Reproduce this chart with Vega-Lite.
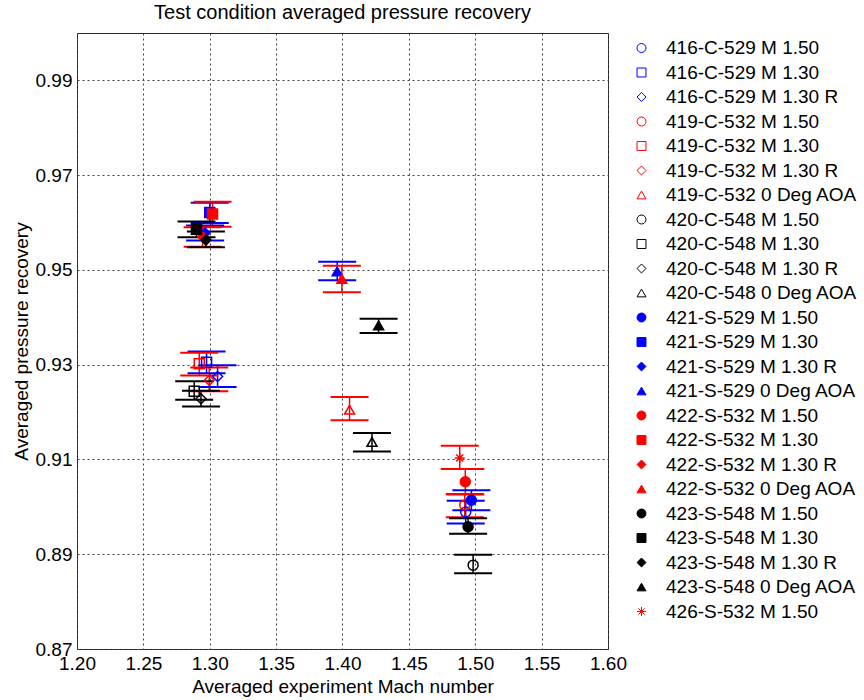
{
  "$schema": "https://vega.github.io/schema/vega-lite/v6.json",
  "width": 531,
  "height": 616,
  "autosize": {"type": "none"},
  "padding": {"left": 77, "top": 33, "right": 256, "bottom": 51},
  "background": "white",
  "title": {"text": "Test condition averaged pressure recovery", "font": "Liberation Sans", "fontSize": 20, "fontWeight": "normal", "color": "black", "offset": 10, "anchor": "middle"},
  "config": {
    "view": {"stroke": "#262626", "strokeWidth": 1},
    "axis": {"grid": true, "gridDash": [2, 3], "gridColor": "#404040", "gridOpacity": 1, "gridWidth": 1, "domain": false, "ticks": false, "labelFlush": false, "labelFont": "Liberation Sans", "labelFontSize": 19, "labelColor": "black", "titleFont": "Liberation Sans", "titleFontSize": 19, "titleFontWeight": "normal", "titleColor": "black", "labelPadding": 5}
  },
  "data": {"values": [
    {"series": "416-C-529 M 1.50", "tunnel": "529", "M": 1.4928, "P": 0.8989, "lo": 0.8965, "hi": 0.9013},
    {"series": "416-C-529 M 1.30", "tunnel": "529", "M": 1.2976, "P": 0.9305, "lo": 0.9282, "hi": 0.9328},
    {"series": "416-C-529 M 1.30 R", "tunnel": "529", "M": 1.3059, "P": 0.9275, "lo": 0.9253, "hi": 0.9299},
    {"series": "419-C-532 M 1.50", "tunnel": "532", "M": 1.4921, "P": 0.9004, "lo": 0.8978, "hi": 0.9027},
    {"series": "419-C-532 M 1.30", "tunnel": "532", "M": 1.2921, "P": 0.9302, "lo": 0.9277, "hi": 0.9325},
    {"series": "419-C-532 M 1.30 R", "tunnel": "532", "M": 1.2996, "P": 0.9267, "lo": 0.9244, "hi": 0.9294},
    {"series": "419-C-532 0 Deg AOA", "tunnel": "532", "M": 1.4053, "P": 0.9205, "lo": 0.9183, "hi": 0.9232},
    {"series": "420-C-548 M 1.50", "tunnel": "548", "M": 1.4984, "P": 0.8877, "lo": 0.886, "hi": 0.8899},
    {"series": "420-C-548 M 1.30", "tunnel": "548", "M": 1.2883, "P": 0.9244, "lo": 0.9226, "hi": 0.9265},
    {"series": "420-C-548 M 1.30 R", "tunnel": "548", "M": 1.2934, "P": 0.9228, "lo": 0.9212, "hi": 0.9245},
    {"series": "420-C-548 0 Deg AOA", "tunnel": "548", "M": 1.4222, "P": 0.9137, "lo": 0.9117, "hi": 0.9156},
    {"series": "421-S-529 M 1.50", "tunnel": "529", "M": 1.4971, "P": 0.9014, "lo": 0.8993, "hi": 0.9035},
    {"series": "421-S-529 M 1.30", "tunnel": "529", "M": 1.3, "P": 0.9621, "lo": 0.9599, "hi": 0.9642},
    {"series": "421-S-529 M 1.30 R", "tunnel": "529", "M": 1.2965, "P": 0.9578, "lo": 0.9562, "hi": 0.9594},
    {"series": "421-S-529 0 Deg AOA", "tunnel": "529", "M": 1.396, "P": 0.9497, "lo": 0.9478, "hi": 0.9517},
    {"series": "422-S-532 M 1.50", "tunnel": "532", "M": 1.4925, "P": 0.9053, "lo": 0.9026, "hi": 0.908},
    {"series": "422-S-532 M 1.30", "tunnel": "532", "M": 1.3021, "P": 0.9618, "lo": 0.9591, "hi": 0.9644},
    {"series": "422-S-532 M 1.30 R", "tunnel": "532", "M": 1.2946, "P": 0.957, "lo": 0.9549, "hi": 0.959},
    {"series": "422-S-532 0 Deg AOA", "tunnel": "532", "M": 1.3995, "P": 0.9481, "lo": 0.9453, "hi": 0.9509},
    {"series": "423-S-548 M 1.50", "tunnel": "548", "M": 1.4946, "P": 0.8958, "lo": 0.8943, "hi": 0.8976},
    {"series": "423-S-548 M 1.30", "tunnel": "548", "M": 1.29, "P": 0.9586, "lo": 0.9569, "hi": 0.9602},
    {"series": "423-S-548 M 1.30 R", "tunnel": "548", "M": 1.2971, "P": 0.9563, "lo": 0.9548, "hi": 0.9581},
    {"series": "423-S-548 0 Deg AOA", "tunnel": "548", "M": 1.4272, "P": 0.9383, "lo": 0.9367, "hi": 0.9397},
    {"series": "426-S-532 M 1.50", "tunnel": "532", "M": 1.4883, "P": 0.9103, "lo": 0.908, "hi": 0.9129}
  ]},
  "layer": [
    {
      "mark": {"type": "rule", "strokeWidth": 1.5},
      "encoding": {
        "x": {"field": "M", "type": "quantitative", "scale": {"domain": [1.2, 1.6], "nice": false, "zero": false}, "axis": {"values": [1.2, 1.25, 1.3, 1.35, 1.4, 1.45, 1.5, 1.55, 1.6], "format": ".2f", "title": "Averaged experiment Mach number"}},
        "y": {"field": "lo", "type": "quantitative", "scale": {"domain": [0.87, 1.0], "nice": false, "zero": false}, "axis": {"values": [0.87, 0.89, 0.91, 0.93, 0.95, 0.97, 0.99], "format": ".2f", "title": "Averaged pressure recovery"}},
        "y2": {"field": "hi"},
        "color": {"field": "tunnel", "type": "nominal", "scale": {"domain": ["529", "532", "548"], "range": ["#0000ff", "#ff0000", "#000000"]}, "legend": null}
      }
    },
    {
      "mark": {"type": "tick", "orient": "horizontal", "size": 38, "thickness": 2, "opacity": 1},
      "encoding": {
        "x": {"field": "M", "type": "quantitative"},
        "y": {"field": "lo", "type": "quantitative"},
        "color": {"field": "tunnel", "type": "nominal", "legend": null}
      }
    },
    {
      "mark": {"type": "tick", "orient": "horizontal", "size": 38, "thickness": 2, "opacity": 1},
      "encoding": {
        "x": {"field": "M", "type": "quantitative"},
        "y": {"field": "hi", "type": "quantitative"},
        "color": {"field": "tunnel", "type": "nominal", "legend": null}
      }
    },
    {
      "mark": {"type": "point", "filled": false, "opacity": 1, "strokeWidth": 1.5, "size": 100},
      "encoding": {
        "x": {"field": "M", "type": "quantitative"},
        "y": {"field": "P", "type": "quantitative"},
        "stroke": {"field": "series", "type": "nominal",
          "scale": {"domain": ["416-C-529 M 1.50", "416-C-529 M 1.30", "416-C-529 M 1.30 R", "419-C-532 M 1.50", "419-C-532 M 1.30", "419-C-532 M 1.30 R", "419-C-532 0 Deg AOA", "420-C-548 M 1.50", "420-C-548 M 1.30", "420-C-548 M 1.30 R", "420-C-548 0 Deg AOA", "421-S-529 M 1.50", "421-S-529 M 1.30", "421-S-529 M 1.30 R", "421-S-529 0 Deg AOA", "422-S-532 M 1.50", "422-S-532 M 1.30", "422-S-532 M 1.30 R", "422-S-532 0 Deg AOA", "423-S-548 M 1.50", "423-S-548 M 1.30", "423-S-548 M 1.30 R", "423-S-548 0 Deg AOA", "426-S-532 M 1.50"],
            "range": ["#0000ff", "#0000ff", "#0000ff", "#ff0000", "#ff0000", "#ff0000", "#ff0000", "#000000", "#000000", "#000000", "#000000", "#0000ff", "#0000ff", "#0000ff", "#0000ff", "#ff0000", "#ff0000", "#ff0000", "#ff0000", "#000000", "#000000", "#000000", "#000000", "#ff0000"]},
          "legend": {"title": null, "orient": "none", "legendX": 555, "legendY": 5.5, "padding": 0, "labelFont": "Liberation Sans", "labelFontSize": 19, "labelColor": "black", "symbolSize": 80, "symbolStrokeWidth": 1, "rowPadding": 4.5, "labelOffset": 15, "labelLimit": 300}
        },
        "fill": {"field": "series", "type": "nominal",
          "scale": {"domain": ["416-C-529 M 1.50", "416-C-529 M 1.30", "416-C-529 M 1.30 R", "419-C-532 M 1.50", "419-C-532 M 1.30", "419-C-532 M 1.30 R", "419-C-532 0 Deg AOA", "420-C-548 M 1.50", "420-C-548 M 1.30", "420-C-548 M 1.30 R", "420-C-548 0 Deg AOA", "421-S-529 M 1.50", "421-S-529 M 1.30", "421-S-529 M 1.30 R", "421-S-529 0 Deg AOA", "422-S-532 M 1.50", "422-S-532 M 1.30", "422-S-532 M 1.30 R", "422-S-532 0 Deg AOA", "423-S-548 M 1.50", "423-S-548 M 1.30", "423-S-548 M 1.30 R", "423-S-548 0 Deg AOA", "426-S-532 M 1.50"],
            "range": ["transparent", "transparent", "transparent", "transparent", "transparent", "transparent", "transparent", "transparent", "transparent", "transparent", "transparent", "#0000ff", "#0000ff", "#0000ff", "#0000ff", "#ff0000", "#ff0000", "#ff0000", "#ff0000", "#000000", "#000000", "#000000", "#000000", "transparent"]},
          "legend": {"title": null, "orient": "none", "legendX": 555, "legendY": 5.5, "padding": 0, "labelFont": "Liberation Sans", "labelFontSize": 19, "labelColor": "black", "symbolSize": 80, "symbolStrokeWidth": 1, "rowPadding": 4.5, "labelOffset": 15, "labelLimit": 300}
        },
        "shape": {"field": "series", "type": "nominal",
          "scale": {"domain": ["416-C-529 M 1.50", "416-C-529 M 1.30", "416-C-529 M 1.30 R", "419-C-532 M 1.50", "419-C-532 M 1.30", "419-C-532 M 1.30 R", "419-C-532 0 Deg AOA", "420-C-548 M 1.50", "420-C-548 M 1.30", "420-C-548 M 1.30 R", "420-C-548 0 Deg AOA", "421-S-529 M 1.50", "421-S-529 M 1.30", "421-S-529 M 1.30 R", "421-S-529 0 Deg AOA", "422-S-532 M 1.50", "422-S-532 M 1.30", "422-S-532 M 1.30 R", "422-S-532 0 Deg AOA", "423-S-548 M 1.50", "423-S-548 M 1.30", "423-S-548 M 1.30 R", "423-S-548 0 Deg AOA", "426-S-532 M 1.50"],
            "range": ["circle", "square", "diamond", "circle", "square", "diamond", "triangle-up", "circle", "square", "diamond", "triangle-up", "circle", "square", "diamond", "triangle-up", "circle", "square", "diamond", "triangle-up", "circle", "square", "diamond", "triangle-up", "M0,-1L0,1M-1,0L1,0M-0.7,-0.7L0.7,0.7M-0.7,0.7L0.7,-0.7"]},
          "legend": {"title": null, "orient": "none", "legendX": 555, "legendY": 5.5, "padding": 0, "labelFont": "Liberation Sans", "labelFontSize": 19, "labelColor": "black", "symbolSize": 80, "symbolStrokeWidth": 1, "rowPadding": 4.5, "labelOffset": 15, "labelLimit": 300}
        }
      }
    }
  ]
}
